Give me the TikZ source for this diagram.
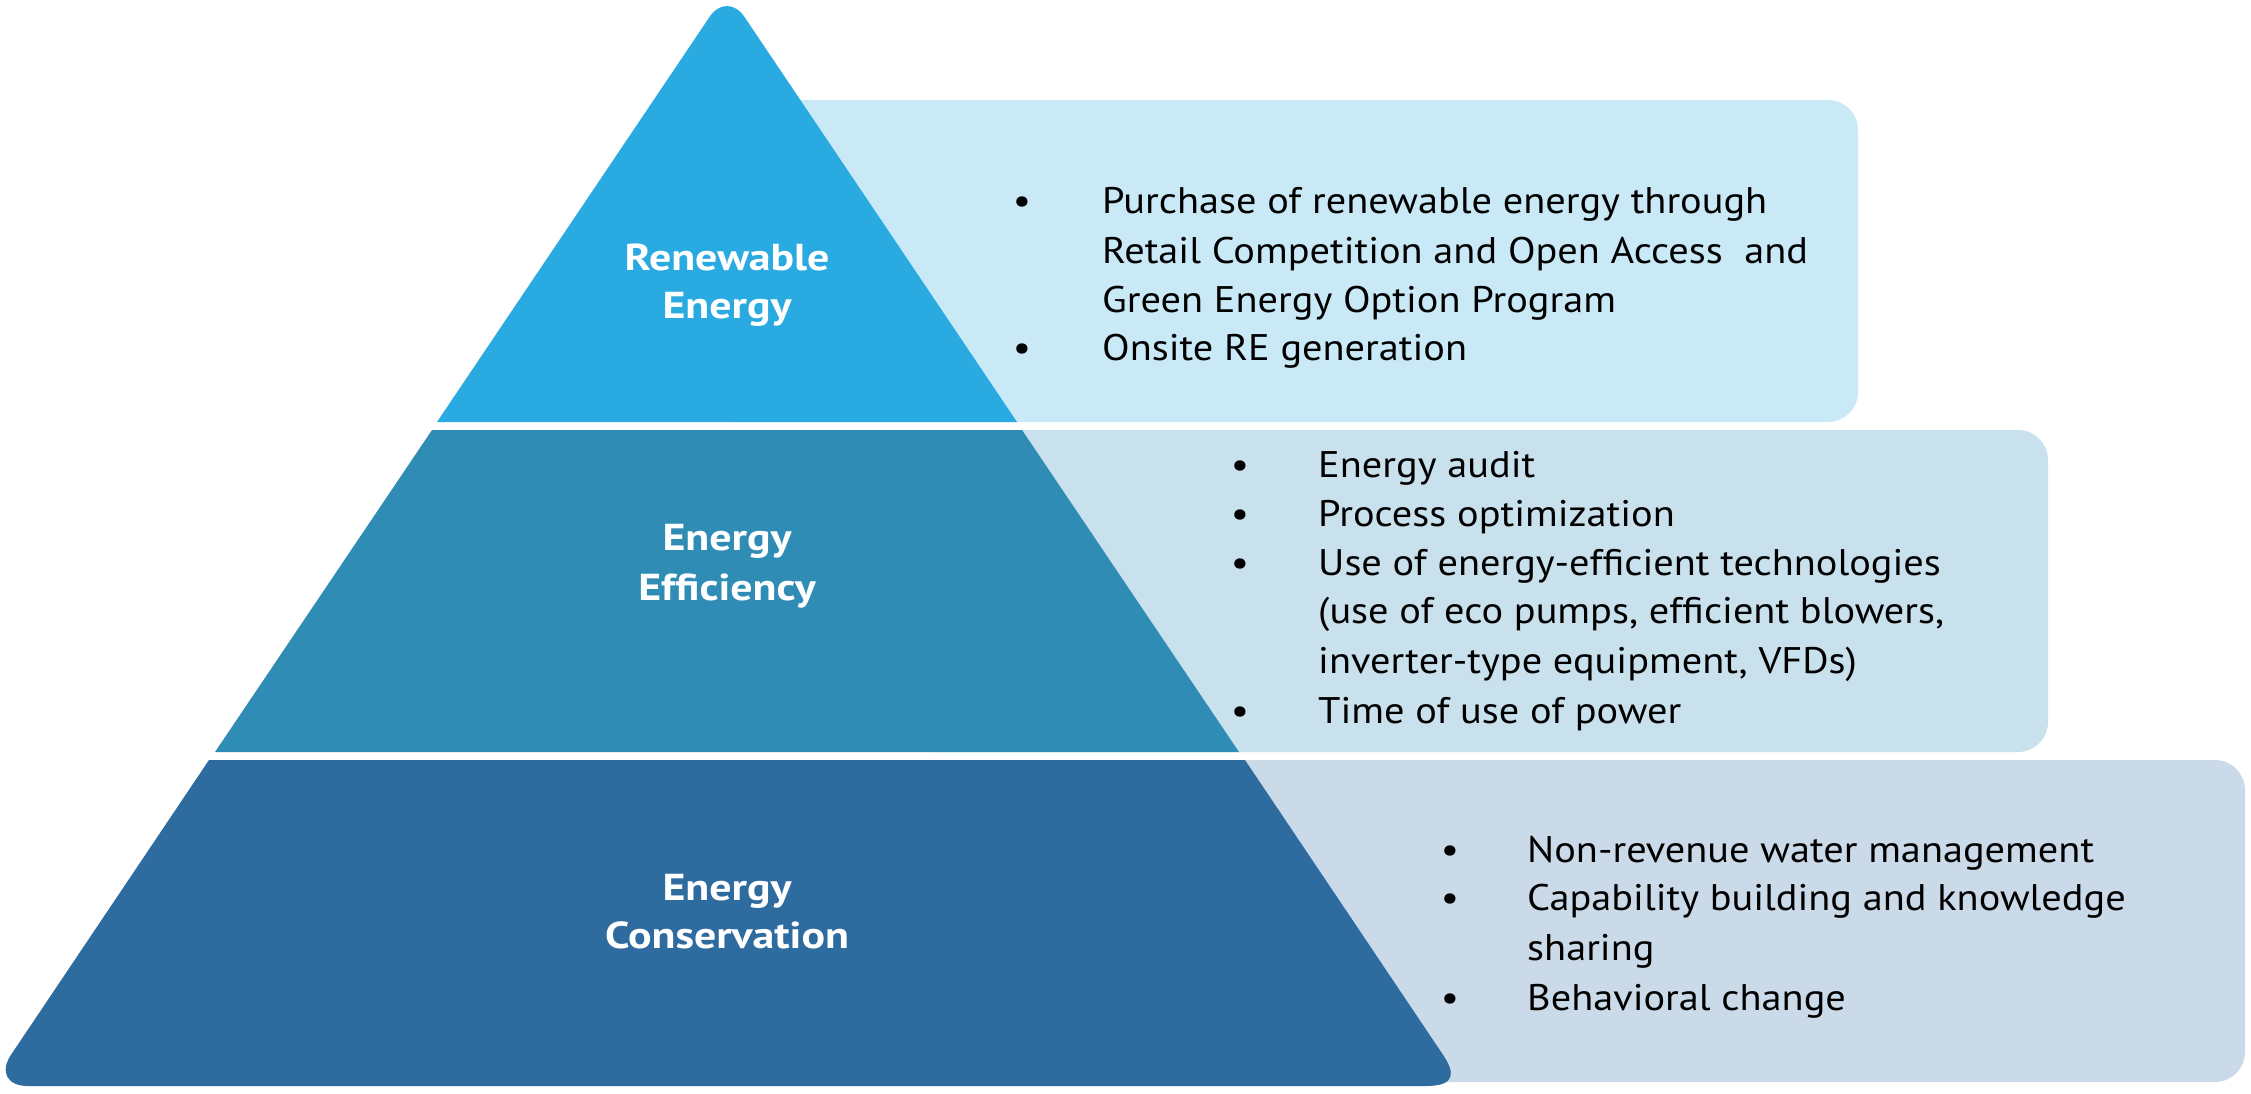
\documentclass[tikz,border=0pt]{standalone}
\usepackage{fontspec}
\setmainfont{PT Sans}[FakeStretch=1.09]
\newfontfamily\labelfont{PT Sans}[FakeStretch=1.17]
\definecolor{tierA}{HTML}{29AAE1}
\definecolor{tierB}{HTML}{2F8CB5}
\definecolor{tierC}{HTML}{2E6B9F}
\definecolor{boxA}{HTML}{C9E9F6}
\definecolor{boxB}{HTML}{C9E1EC}
\definecolor{boxC}{HTML}{CBDAE8}
\tikzset{
  itemtext/.style={anchor=base west, inner sep=0pt, font=\fontsize{37}{44}\selectfont},
  bulletmark/.style={anchor=base, inner sep=0pt, font=\fontsize{37}{44}\selectfont},
  tierlabel/.style={anchor=base, inner sep=0pt, text=white, font=\labelfont\bfseries\fontsize{37.5}{44}\selectfont},
  panel/.style={rounded corners=30pt}
}
\begin{document}
\begin{tikzpicture}[x=1pt,y=-1pt]
\useasboundingbox (0,0) rectangle (2251,1093);
\fill[white] (0,0) rectangle (2251,1093);
% panels behind the pyramid
\fill[boxA,panel] (700,100) rectangle (1858,422);
\fill[boxB,panel] (900,430) rectangle (2048,752);
\fill[boxC,panel] (1100,760) rectangle (2245,1082);
% pyramid tiers
\fill[tierA] (437,422) -- (709.7,16.7) .. controls (719.3,2.5) and (734.7,2.5) .. (744.3,16.7) -- (1017,422) -- cycle;
\fill[tierB] (432,430) -- (1022,430) -- (1239,752) -- (215,752) -- cycle;
\fill[tierC] (209,760) -- (1245,760) -- (1442.8,1054.5) .. controls (1454.5,1071.9) and (1457,1086) .. (1426,1086)
  -- (28,1086) .. controls (7,1086) and (-0.5,1071.9) .. (11.2,1054.5) -- cycle;
% tier labels
\node[tierlabel] (l1a) at (727,270) {Renewable};
\node[tierlabel] (l1b) at (727,318) {Energy};
\node[tierlabel] (l2a) at (727,550) {Energy};
\node[tierlabel] (l2b) at (727,600) {Efficiency};
\node[tierlabel] (l3a) at (727,900) {Energy};
\node[tierlabel] (l3b) at (727,948) {Conservation};
% panel 1
\node[bulletmark] (b11) at (1022,213) {\textbullet};
\node[itemtext] (t11) at (1102,213) {Purchase of renewable energy through};
\node[itemtext] (t12) at (1102,263) {Retail Competition and Open Access\ \ and};
\node[itemtext] (t13) at (1102,312) {Green Energy Option Program};
\node[bulletmark] (b12) at (1022,360) {\textbullet};
\node[itemtext] (t14) at (1102,360) {Onsite RE generation};
% panel 2
\node[bulletmark] (b21) at (1240,477) {\textbullet};
\node[itemtext] (t21) at (1318,477) {Energy audit};
\node[bulletmark] (b22) at (1240,526) {\textbullet};
\node[itemtext] (t22) at (1318,526) {Process optimization};
\node[bulletmark] (b23) at (1240,575) {\textbullet};
\node[itemtext] (t23) at (1318,575) {Use of energy-efficient technologies};
\node[itemtext] (t24) at (1318,623) {(use of eco pumps, efficient blowers,};
\node[itemtext] (t25) at (1318,673) {inverter-type equipment, VFDs)};
\node[bulletmark] (b24) at (1240,723) {\textbullet};
\node[itemtext] (t26) at (1318,723) {Time of use of power};
% panel 3
\node[bulletmark] (b31) at (1450,862) {\textbullet};
\node[itemtext] (t31) at (1527,862) {Non-revenue water management};
\node[bulletmark] (b32) at (1450,910) {\textbullet};
\node[itemtext] (t32) at (1527,910) {Capability building and knowledge};
\node[itemtext] (t33) at (1527,960) {sharing};
\node[bulletmark] (b33) at (1450,1010) {\textbullet};
\node[itemtext] (t34) at (1527,1010) {Behavioral change};
\end{tikzpicture}
\end{document}
